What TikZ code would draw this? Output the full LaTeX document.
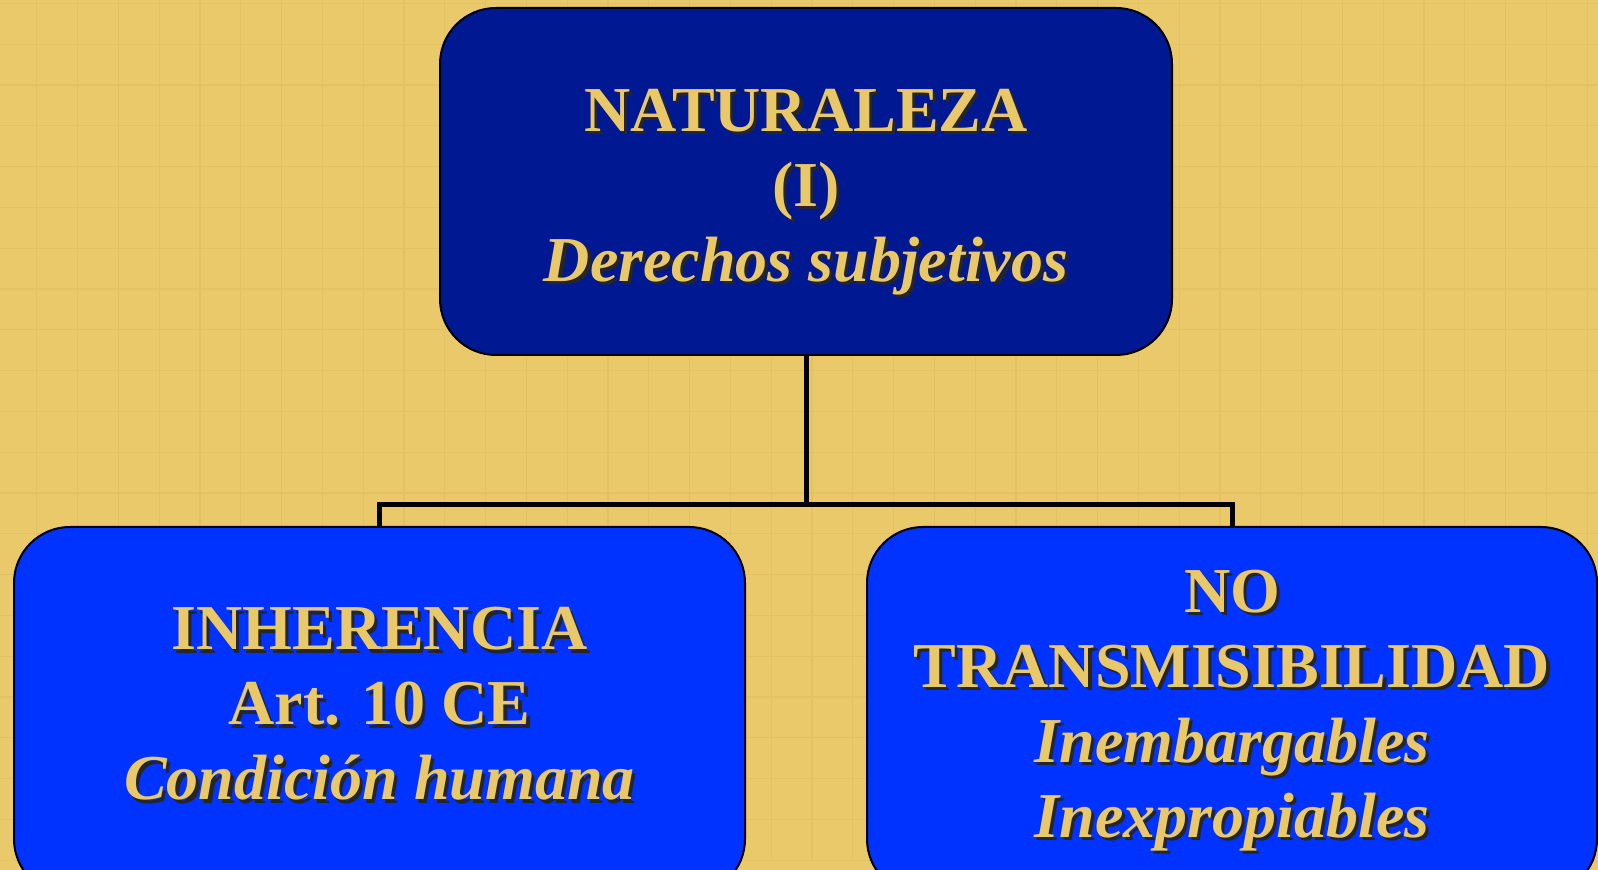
\documentclass[tikz,border=0pt]{standalone}
\usepackage{fontspec}
\setmainfont{Liberation Serif}
\usepackage{xcolor}
\usetikzlibrary{positioning}
\definecolor{bggold}{RGB}{234,201,107}
\definecolor{gridgold}{RGB}{228,194,100}
\definecolor{textgold}{RGB}{233,200,106}
\definecolor{navyblue}{RGB}{0,24,145}
\definecolor{brightblue}{RGB}{0,51,255}
% shadowed line of text
\newcommand{\shd}[1]{\rlap{\kern1.6pt\raisebox{-1.6pt}{\textcolor{black!85}{#1}}}#1}
% block of lines, moved up or down inside its box
\newcommand{\lines}[2]{\raisebox{#1}[\height][\depth]{\begin{tabular}{@{}c@{}}#2\end{tabular}}}

\begin{document}
\begin{tikzpicture}[
    x=0.5pt, y=0.5pt,
    box/.style={rectangle, draw=black, line width=1pt, rounded corners=28pt, align=center,
        text=textgold, font=\fontsize{32}{37.5}\selectfont\bfseries, inner sep=0pt},
    link/.style={draw=black, line width=2.5pt}
]
    \useasboundingbox (0,0) rectangle (1598,870);
    \clip (0,0) rectangle (1598,870);
    \fill[bggold] (0,0) rectangle (1598,870);
    \draw[gridgold, line width=0.6pt, shift={(-4,9.8)}] (0,0) grid[step=40.8] (1640,900);

    \node[box, fill=navyblue, minimum width=366pt, minimum height=173.5pt] (nat) at (806,688.5)
        {\lines{-5pt}{\shd{NATURALEZA}\\ \shd{(I)}\\ \shd{\itshape Derechos subjetivos}}};
    \node[box, fill=brightblue, minimum width=365.5pt, minimum height=184pt] (inh) at (379.5,159)
        {\lines{0.5pt}{\shd{INHERENCIA}\\ \shd{Art. 10 CE}\\ \shd{\itshape Condición humana}}};
    \node[box, fill=brightblue, minimum width=365pt, minimum height=184pt] (notr) at (1232,159)
        {\lines{0.5pt}{\shd{NO}\\ \shd{TRANSMISIBILIDAD}\\ \shd{\itshape Inembargables}\\ \shd{\itshape Inexpropiables}}};

    \coordinate (fork) at (806,365);
    \draw[link] (nat.south) -- (fork);
    \draw[link] (inh.north) |- (fork) -| (notr.north);
\end{tikzpicture}
\end{document}
